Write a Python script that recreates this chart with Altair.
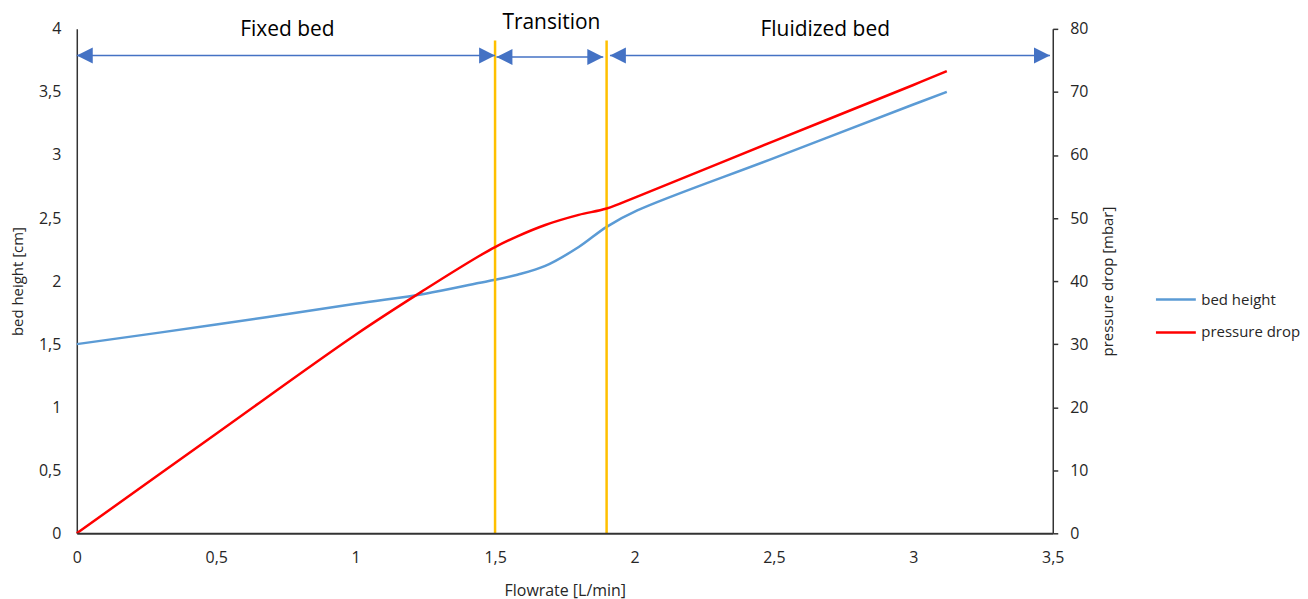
import altair as alt
import pandas as pd

# ---- data ----
flow = [0, 0.5, 1.0, 1.25, 1.44, 1.5, 1.58, 1.68, 1.8, 1.9, 2.01, 2.5, 3.0, 3.12]
bed_height = [1.5, 1.655, 1.82, 1.9, 1.984, 2.01, 2.05, 2.12, 2.27, 2.43, 2.56, 2.975, 3.4, 3.5]
pressure_drop = [0, 15.8, 31.5, 38.7, 43.9, 45.4, 47.1, 48.9, 50.5, 51.5, 53.4, 62.2, 71.1, 73.3]

regime_bounds = [1.5, 1.9]
bound_bottom = [0, 0]
bound_top = [3.907, 3.907]

regime_labels = ["Fixed bed", "Transition", "Fluidized bed"]
label_x = [0.755, 1.702, 2.684]
label_y = [3.947, 4.002, 3.947]

arrow_start = [0, 1.505, 1.912]
arrow_end = [1.5, 1.888, 3.49]
arrow_y = [3.789, 3.777, 3.789]

x_ticks = [0, 0.5, 1, 1.5, 2, 2.5, 3, 3.5]
left_ticks = [0, 0.5, 1, 1.5, 2, 2.5, 3, 3.5, 4]
right_ticks = [0, 10, 20, 30, 40, 50, 60, 70, 80]

series_names = ["bed height", "pressure drop"]
series_colors = ["#5B9BD5", "#FF0000"]

FONT = "Open Sans"
TXT = "#262626"
AX = "#333333"

curves = pd.DataFrame({"flow": flow, "bed": bed_height, "dp": pressure_drop})
bounds_df = pd.DataFrame({"x": regime_bounds, "y0": bound_bottom, "y1": bound_top})
labels_df = pd.DataFrame({"x": label_x, "y": label_y, "label": regime_labels})
arrows_df = pd.DataFrame({"x0": arrow_start, "x1": arrow_end, "y": arrow_y})

xscale = alt.Scale(domain=[0, 3.5], nice=False, zero=False)
yl_scale = alt.Scale(domain=[0, 4], nice=False, zero=False)
yr_scale = alt.Scale(domain=[0, 80], nice=False, zero=False)
color_scale = alt.Scale(domain=series_names, range=series_colors)

x_axis = alt.Axis(
    orient="bottom", values=x_ticks,
    labelExpr="replace(format(datum.value, '~g'), '.', ',')",
    ticks=False, tickSize=0, grid=False, domain=True, domainColor=AX, domainWidth=2,
    labelFontSize=16, labelColor=TXT, labelPadding=16, labelFont=FONT,
    labelFlush=False, labelOverlap=False, zindex=1,
    titleFontSize=16, titleColor=TXT, titleFontWeight="normal", titleFont=FONT,
    titlePadding=17, title="Flowrate [L/min]",
)
left_axis = alt.Axis(
    values=left_ticks, labelExpr="replace(format(datum.value, '~g'), '.', ',')",
    ticks=False, tickSize=0, grid=False, domainColor=AX, domainWidth=1.5,
    labelFontSize=16, labelColor=TXT, labelPadding=16, labelFont=FONT,
    labelFlush=False, labelOverlap=False,
    titleFontSize=15, titleColor=TXT, titleFontWeight="normal", titleFont=FONT,
    titlePadding=13,
)
right_axis = alt.Axis(
    orient="right", values=right_ticks, format="d",
    ticks=True, tickSize=5, tickColor=AX, tickWidth=1.5, grid=False,
    domainColor=AX, domainWidth=1.5,
    labelFontSize=16, labelColor=TXT, labelPadding=12, labelFont=FONT,
    labelFlush=False, labelOverlap=False,
    titleFontSize=15, titleColor=TXT, titleFontWeight="normal", titleFont=FONT,
    titlePadding=28, titleAngle=270,
)

legend = alt.Legend(
    title=None, orient="none", legendX=1081, legendY=250,
    symbolType="stroke", symbolSize=1600, symbolStrokeWidth=2.5,
    labelFontSize=15, labelFont=FONT, labelColor=TXT, labelOffset=4,
    rowPadding=3, padding=0,
)

X = alt.X("flow:Q", scale=xscale, axis=x_axis, title="Flowrate [L/min]")

blue = alt.Chart(curves).transform_calculate(series="'bed height'").mark_line(
    interpolate="catmull-rom", strokeWidth=2.5
).encode(
    x=X,
    y=alt.Y("bed:Q", scale=yl_scale, axis=left_axis, title="bed height [cm]"),
    color=alt.Color("series:N", scale=color_scale, legend=legend),
)

red = alt.Chart(curves).transform_calculate(series="'pressure drop'").mark_line(
    interpolate="catmull-rom", strokeWidth=2.5
).encode(
    x=X,
    y=alt.Y("dp:Q", scale=yr_scale, axis=right_axis, title="pressure drop [mbar]"),
    color=alt.Color("series:N", scale=color_scale, legend=None),
)

YL = dict(scale=yl_scale, axis=left_axis, title="bed height [cm]")

orange = alt.Chart(bounds_df).mark_rule(color="#FFC000", strokeWidth=2.5).encode(
    x=alt.X("x:Q", scale=xscale, axis=x_axis, title="Flowrate [L/min]"),
    y=alt.Y("y0:Q", **YL),
    y2="y1:Q",
)

arrow_lines = alt.Chart(arrows_df).mark_rule(color="#4472C4", strokeWidth=1.5).encode(
    x=alt.X("x0:Q", scale=xscale, axis=x_axis, title="Flowrate [L/min]"),
    x2="x1:Q",
    y=alt.Y("y:Q", **YL),
)

heads_left = alt.Chart(arrows_df).mark_point(
    shape="M0,0L2,-1L2,1Z", filled=True, size=256, color="#4472C4", opacity=1
).encode(
    x=alt.X("x0:Q", scale=xscale, axis=x_axis, title="Flowrate [L/min]"),
    y=alt.Y("y:Q", **YL),
)

heads_right = alt.Chart(arrows_df).mark_point(
    shape="M0,0L-2,-1L-2,1Z", filled=True, size=256, color="#4472C4", opacity=1
).encode(
    x=alt.X("x1:Q", scale=xscale, axis=x_axis, title="Flowrate [L/min]"),
    y=alt.Y("y:Q", **YL),
)

texts = alt.Chart(labels_df).mark_text(
    fontSize=21, font=FONT, color="#000000", align="center", baseline="alphabetic"
).encode(
    x=alt.X("x:Q", scale=xscale, axis=x_axis, title="Flowrate [L/min]"),
    y=alt.Y("y:Q", **YL),
    text="label:N",
)

left_group = alt.layer(blue, orange, arrow_lines, heads_left, heads_right, texts)

chart = alt.layer(left_group, red).resolve_scale(y="independent").properties(
    width=979, height=506,
    autosize=alt.AutoSizeParams(type="none"),
    padding={"left": 69, "top": 20, "right": 248, "bottom": 68},
).configure(font=FONT).configure_view(strokeWidth=0, stroke="transparent").configure_axis(grid=False)

chart.save("out.html", embed_options={"renderer": "svg", "actions": False})
